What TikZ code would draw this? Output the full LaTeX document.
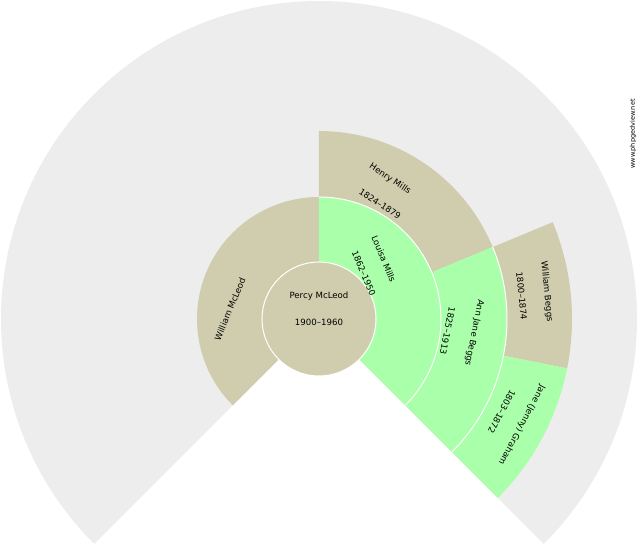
\documentclass[tikz,border=0pt]{standalone}
\usepackage{fontspec}
\setmainfont{DejaVu Sans}
\definecolor{bgfan}{HTML}{EDEDED}
\definecolor{tanfill}{HTML}{CFCDAD}
\definecolor{greenfill}{HTML}{AAFFAA}
\newcommand\fansector[5]{%
  \fill[#1] (#2:#4) arc[start angle=#2,end angle=#3,radius=#4] -- (#3:#5) arc[start angle=#3,end angle=#2,radius=#5] -- cycle;}
\begin{document}
\begin{tikzpicture}[x=1pt,y=1pt,
  lbl/.style={font=\fontsize{8.6}{10}\selectfont, inner sep=0pt, text=black},
  sep/.style={draw=white, line width=1pt}]
\useasboundingbox (-319,-231) rectangle (321,319);
% background fan
\fill[bgfan] (0,0) -- (225:318pt) arc[start angle=225,end angle=-45,radius=318pt] -- cycle;
% ring 1
\fansector{tanfill}{90}{225}{57pt}{122pt}
\fansector{greenfill}{-45}{90}{57pt}{122pt}
% ring 2
\fansector{tanfill}{22.5}{90}{122pt}{188pt}
\fansector{greenfill}{-45}{22.5}{122pt}{188pt}
% ring 3
\fansector{tanfill}{-11.25}{22.5}{188pt}{253pt}
\fansector{greenfill}{-45}{-11.25}{188pt}{253pt}
% separators
\draw[sep] (90:122pt) arc[start angle=90,end angle=-45,radius=122pt];
\draw[sep] (22.5:188pt) arc[start angle=22.5,end angle=-45,radius=188pt];
% centre
\filldraw[fill=tanfill, sep] (0,0) circle[radius=57pt];
% texts
\node[lbl] (p1) at (0,23) {Percy McLeod};
\node[lbl] (p1d) at (0,-3) {1900–1960};
\node[lbl, rotate=67.5] (f1) at (-89,10) {William McLeod};
\node[lbl, rotate=-67.5] (m1) at (64.8,60) {Louisa Mills};
\node[lbl, rotate=-67.5] (m1d) at (44.8,45.7) {1862–1950};
\node[lbl, rotate=-33.75] (mf) at (71,140) {Henry Mills};
\node[lbl, rotate=-33.75] (mfd) at (61,115) {1824–1879};
\node[lbl, rotate=-101.25] (mm) at (155,-13.5) {Ann Jane Beggs};
\node[lbl, rotate=-101.25] (mmd) at (128.5,-12) {1825–1913};
\node[lbl, rotate=-84.4] (mmf) at (227.7,27.3) {William Beggs};
\node[lbl, rotate=-84.4] (mmfd) at (202.7,23) {1800–1874};
\node[lbl, rotate=-118.1] (mmm) at (202.7,-106) {Jane (Jenny) Graham};
\node[lbl, rotate=-118.1] (mmmd) at (182.7,-92.7) {1803–1872};
\node[inner sep=0pt, font=\fontsize{6.5}{8}\selectfont, rotate=90] (wm) at (314,185) {www.phpgedview.net};
\end{tikzpicture}
\end{document}
